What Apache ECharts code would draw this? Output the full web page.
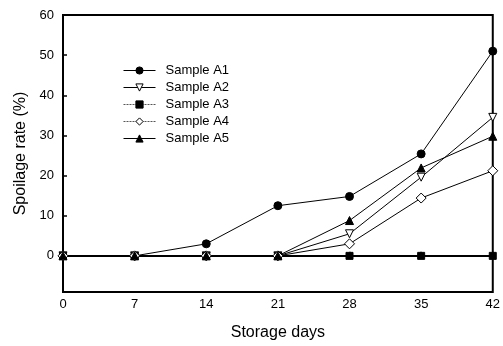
<!DOCTYPE html>
<html>
<head>
<meta charset="utf-8">
<script src="https://cdn.jsdelivr.net/npm/echarts@6/dist/echarts.min.js"></script>
<style>html,body{margin:0;padding:0;background:#fff}#c{width:503px;height:346px}</style>
</head>
<body>
<div id="c"></div>
<script>
var days = [0, 7, 14, 21, 28, 35, 42];
var xTicks = [0, 7, 14, 21, 28, 35, 42];
var yTicks = [0, 10, 20, 30, 40, 50, 60];
var seriesNames = ['Sample A1', 'Sample A2', 'Sample A3', 'Sample A4', 'Sample A5'];
var sampleA1 = [0, 0, 3, 12.5, 14.8, 25.4, 51];
var sampleA2 = [0, 0, 0, 0, 5.5, 19.6, 34.5];
var sampleA3 = [0, 0, 0, 0, 0, 0, 0];
var sampleA4 = [0, 0, 0, 0, 3, 14.4, 21.2];
var sampleA5 = [0, 0, 0, 0, 8.8, 21.9, 29.8];

function pairs(arr){ return days.map(function(d,i){ return [d, arr[i]]; }); }

var styles = [
  {symbol:'circle', size:8, fill:'#000', rot:0},
  {symbol:'triangle', size:8, fill:'#fff', rot:180},
  {symbol:'rect', size:7, fill:'#000', rot:0},
  {symbol:'diamond', size:10, fill:'#fff', rot:0},
  {symbol:'triangle', size:8, fill:'#000', rot:0}
];
var dataArr = [sampleA1, sampleA2, sampleA3, sampleA4, sampleA5];

var series = seriesNames.map(function(n, i){
  var s = styles[i];
  return {
    name: n, type: 'line', data: pairs(dataArr[i]),
    symbol: s.symbol, symbolSize: s.size, symbolRotate: s.rot,
    lineStyle: {color:'#000', width:1},
    itemStyle: {color: s.fill, borderColor:'#000', borderWidth:1},
    emphasis: {disabled:true}, animation:false, clip:false
  };
});

var legendData = seriesNames.map(function(n, i){
  var item = {name: n, lineStyle: {width:1, color:'#000'}};
  if (i === 2 || i === 3) item.lineStyle = {width:1, type:[2,1], color:'#555'};
  return item;
});

var FONT = 'Liberation Sans, Arial';
var chart = echarts.init(document.getElementById('c'), null, {renderer:'canvas'});
chart.setOption({
  animation: false,
  grid: {left:63, right:6, top:15, bottom:49, show:true, borderColor:'#000', borderWidth:2, backgroundColor:'transparent'},
  legend: {
    left: 118, top: 57, orient:'vertical', itemWidth:32, itemHeight:9, itemGap:0,
    data: legendData,
    itemStyle: {borderWidth:1},
    lineStyle: {width:1},
    textStyle: {fontFamily:FONT, fontSize:13, color:'#000', padding:[0,0,0,5], lineHeight:17}
  },
  xAxis: {
    type:'value', min:0, max:42, interval:7,
    name:'Storage days', nameLocation:'middle', nameGap:33,
    nameTextStyle:{fontFamily:FONT, fontSize:16, color:'#000'},
    axisLine:{show:true, lineStyle:{color:'#000', width:2}},
    axisTick:{show:true, inside:true, length:4, lineStyle:{color:'#000', width:1.5}, customValues: xTicks},
    axisLabel:{fontFamily:FONT, fontSize:13, color:'#000', margin:6, customValues: xTicks},
    splitLine:{show:false}
  },
  yAxis: {
    type:'value', min:-9, max:60,
    name:'Spoilage rate (%)', nameLocation:'middle', nameGap:34,
    nameTextStyle:{fontFamily:FONT, fontSize:16, color:'#000'},
    axisLine:{show:true, lineStyle:{color:'#000', width:2}},
    axisTick:{show:true, inside:true, length:4, lineStyle:{color:'#000', width:1.5}, customValues: yTicks},
    axisLabel:{fontFamily:FONT, fontSize:13, color:'#000', margin:9, customValues: yTicks},
    splitLine:{show:false}
  },
  series: series
});
</script>
</body>
</html>
